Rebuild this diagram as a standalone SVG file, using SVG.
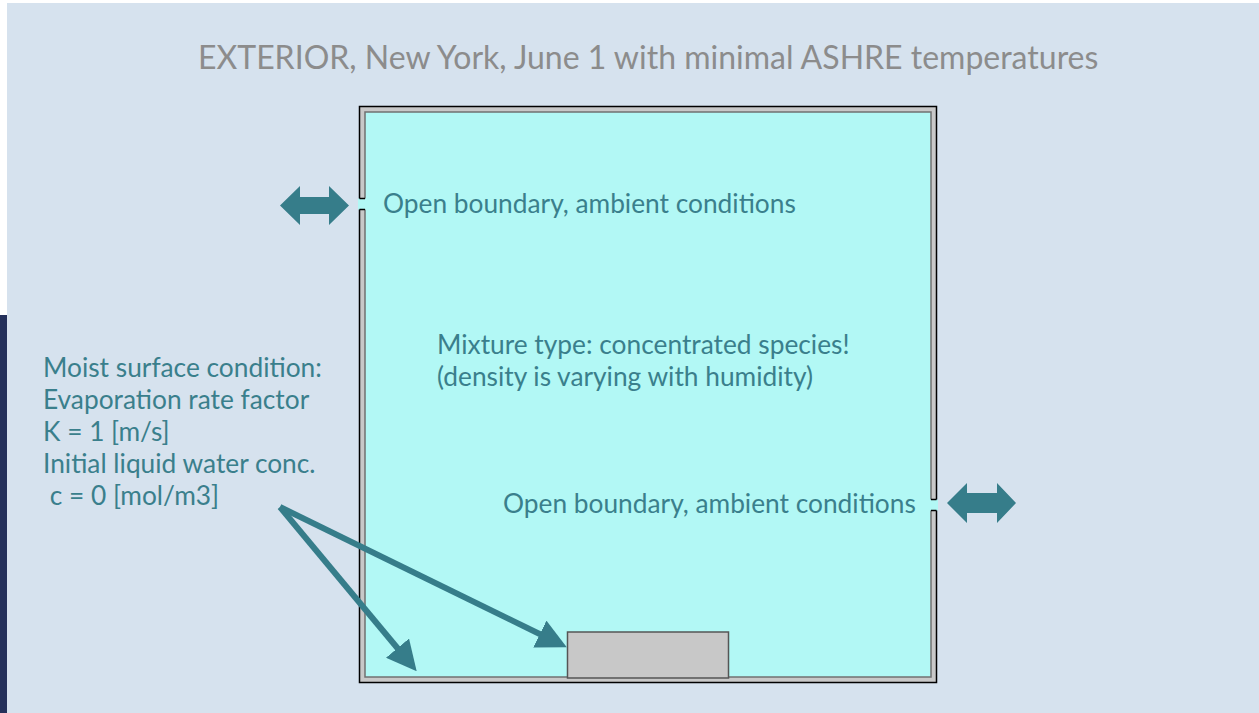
<svg xmlns="http://www.w3.org/2000/svg" width="1259" height="713" viewBox="0 0 1259 713">
<style>
.t{font-family:Lato,"Open Sans",sans-serif;font-size:26.3px;fill:#3a7f8c}
.title{font-family:Lato,"Open Sans",sans-serif;font-size:32px;fill:#8c8c8c}
.conn{stroke:#367d8a;stroke-width:6;fill:none}
.dbl{fill:#367d8a}
</style>
<defs>
<marker id="ah" markerWidth="5" markerHeight="5" refX="3" refY="2.5" orient="auto" markerUnits="strokeWidth">
<path d="M0,0 L5,2.5 L0,5 Z" fill="#367d8a"/>
</marker>
</defs>
<rect x="0" y="0" width="1259" height="713" fill="#ffffff"/>
<rect x="7" y="3" width="1252" height="710" fill="#d6e2ee"/>
<rect x="0" y="315" width="7" height="398" fill="#24305a"/>
<text class="title" x="198" y="68.5">EXTERIOR, New York, June 1 with minimal ASHRE temperatures</text>
<g id="room">
<rect x="359.5" y="106.5" width="577" height="576" fill="#c8c8c8" stroke="#000" stroke-width="1.5"/>
<rect x="365" y="112" width="566" height="565" fill="#b2f8f5" stroke="#707070" stroke-width="1.5"/>
<rect x="358" y="198.5" width="8" height="11" fill="#b2f8f5"/>
<path d="M359.5,198.5 H365 M359.5,209.5 H365" stroke="#000" stroke-width="1.5"/>
<rect x="930" y="499.5" width="8" height="11" fill="#b2f8f5"/>
<path d="M931,499.5 H936.5 M931,510.5 H936.5" stroke="#000" stroke-width="1.5"/>
</g>
<g id="moist-surface">
<rect x="567.5" y="632" width="161" height="46" fill="#c8c8c8" stroke="#555" stroke-width="1.5"/>
</g>
<g id="open-left">
<path class="dbl" d="M280,205.5 L300,186 L300,197 L329,197 L329,186 L349,205.5 L329,225 L329,214 L300,214 L300,225 Z"/>
<text class="t" x="383" y="213">Open boundary, ambient conditions</text>
</g>
<g id="open-right">
<path class="dbl" d="M947,503 L967,483 L967,493 L997,493 L997,483 L1016,503 L997,523 L997,513 L967,513 L967,523 Z"/>
<text class="t" x="503" y="513">Open boundary, ambient conditions</text>
</g>
<g id="mixture">
<text class="t" x="437" y="354">Mixture type: concentrated species!</text>
<text class="t" x="437" y="386">(density is varying with humidity)</text>
</g>
<g id="moist-label">
<text class="t" x="43" y="377">Moist surface condition:</text>
<text class="t" x="43" y="409">Evaporation rate factor</text>
<text class="t" x="43" y="441">K = 1 [m/s]</text>
<text class="t" x="43" y="473">Initial liquid water conc.</text>
<text class="t" x="43" y="505" xml:space="preserve"> c = 0 [mol/m3]</text>
</g>
<g id="connectors">
<line class="conn" x1="280" y1="507" x2="409" y2="662" marker-end="url(#ah)"/>
<line class="conn" x1="280" y1="507" x2="556" y2="642" marker-end="url(#ah)"/>
</g>
</svg>
